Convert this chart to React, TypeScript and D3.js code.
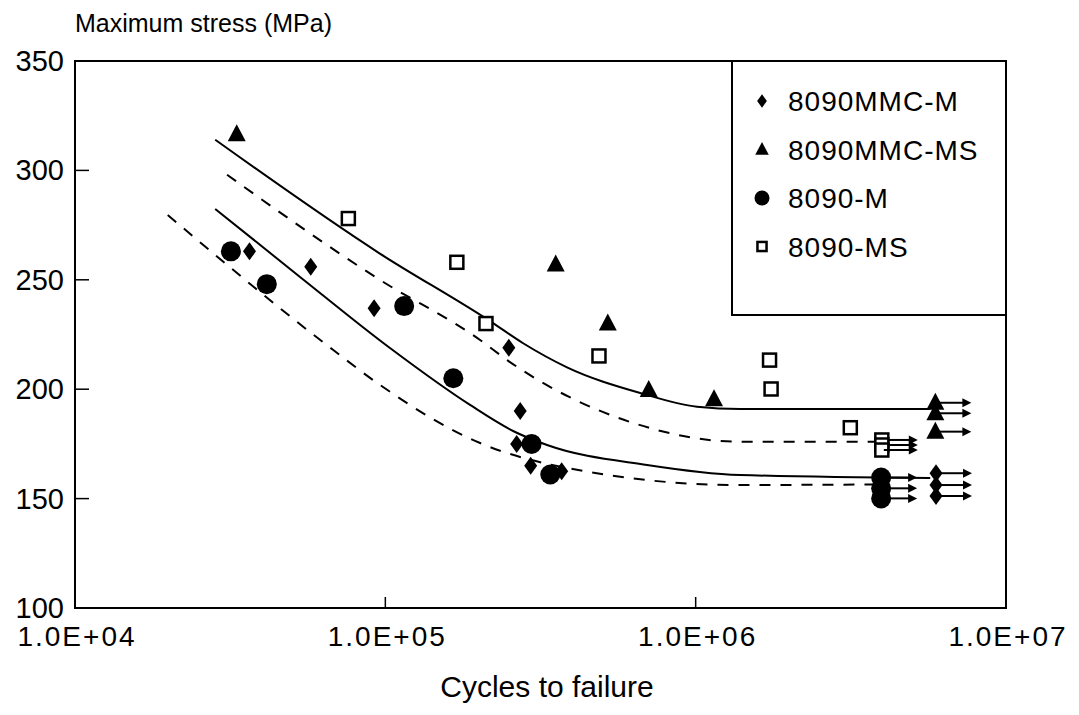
import React from "react";
import * as d3 from "d3";

// cycles to failure, max stress (MPa)
const mmcM: [number, number][] = [
  [36500, 263], [57500, 256], [92000, 237], [250000, 219],
  [272000, 190], [265000, 175], [294000, 165], [370000, 162.5],
];
const mmcMRunout: [number, number][] = [[5.95e6, 161.6], [5.95e6, 156.2], [5.95e6, 151.2]];

const mmcMS: [number, number][] = [
  [33200, 316.5], [354000, 257], [521000, 230], [706000, 199.6], [1.146e6, 195.4],
];
const mmcMSRunout: [number, number][] = [[5.92e6, 193.8], [5.92e6, 189], [5.92e6, 180.6]];

const m8090: [number, number][] = [
  [31800, 263], [41500, 248], [115000, 238], [165600, 205], [296000, 175], [340000, 161],
];
const m8090Runout: [number, number][] = [[3.96e6, 159.6], [3.96e6, 154.7], [3.96e6, 150.1]];

const ms8090: [number, number][] = [
  [76000, 278], [170000, 258], [211000, 230], [488000, 215.2],
  [1.73e6, 213.3], [1.75e6, 200.1], [3.15e6, 182.4],
];
const ms8090Runout: [number, number][] = [[3.98e6, 176.8], [3.98e6, 174.5], [3.98e6, 172.2]];

// fitted curves
const fitMmcMS: [number, number][] = [
  [28300, 314], [96000, 262], [218000, 231], [278000, 221], [385000, 210],
  [662000, 198.3], [1.01e6, 192], [1.39e6, 191], [5.7e6, 191],
];
const fitMs8090: [number, number][] = [
  [30900, 298], [96000, 250], [202000, 222.5], [247000, 213.3], [628000, 184.6],
  [1.39e6, 176], [3.93e6, 176],
];
const fitMmcM: [number, number][] = [
  [28300, 282.4], [53100, 251.3], [103500, 218.8], [187500, 192.8], [258000, 180.9],
  [332000, 174.5], [697000, 165.4], [1.39e6, 160.8], [5.7e6, 159.4],
];
const fitM8090: [number, number][] = [
  [19900, 279.6], [67800, 218], [96000, 202], [202000, 175.4], [385000, 164],
  [1.39e6, 156.2], [3.93e6, 156.5],
];

const yTicks = [100, 150, 200, 250, 300, 350];
const xTicks = [1e4, 1e5, 1e6, 1e7];
const xTickLabels = ["1.0E+04", "1.0E+05", "1.0E+06", "1.0E+07"];
const legendNames = ["8090MMC-M", "8090MMC-MS", "8090-M", "8090-MS"];

const FONT = "'Liberation Sans', Arial, Helvetica, sans-serif";

const Marker = ({ kind, x, y, s = 1 }: { kind: string; x: number; y: number; s?: number }) => {
  if (kind === "diamond")
    return <path d={`M${x},${y - 9 * s}L${x + 6.5 * s},${y}L${x},${y + 9 * s}L${x - 6.5 * s},${y}Z`} fill="#000" />;
  if (kind === "triangle")
    return <path d={`M${x},${y - 10 * s}L${x + 9 * s},${y + 7 * s}L${x - 9 * s},${y + 7 * s}Z`} fill="#000" />;
  if (kind === "circle") return <circle cx={x} cy={y} r={10 * s} fill="#000" />;
  return (
    <rect x={x - 6.5 * s} y={y - 6.5 * s} width={13 * s} height={13 * s}
      fill="#fff" stroke="#000" strokeWidth={2.5} />
  );
};

const Arrow = ({ x, y }: { x: number; y: number }) => (
  <g>
    <line x1={x} y1={y} x2={x + 27} y2={y} stroke="#000" strokeWidth={2} />
    <path d={`M${x + 34},${y}L${x + 25},${y - 4.5}L${x + 25},${y + 4.5}Z`} fill="#000" />
  </g>
);

export default function App() {
  const width = 1079;
  const height = 715;
  const x = d3.scaleLog().domain([1e4, 1e7]).range([75, 1006]);
  const y = d3.scaleLinear().domain([100, 350]).range([608, 61]);

  const line = d3.line<[number, number]>()
    .x((d) => x(d[0]))
    .y((d) => y(d[1]))
    .curve(d3.curveMonotoneX);

  const groups = [
    { kind: "diamond", pts: mmcM, run: mmcMRunout },
    { kind: "triangle", pts: mmcMS, run: mmcMSRunout },
    { kind: "circle", pts: m8090, run: m8090Runout },
    { kind: "square", pts: ms8090, run: ms8090Runout },
  ];

  return (
    <svg width={width} height={height} style={{ position: "absolute", left: 0, top: 0, background: "#fff" }}
      fontFamily={FONT}>
      <rect x={0} y={0} width={width} height={height} fill="#fff" />

      {/* frame */}
      <rect x={75} y={61} width={1006 - 75} height={608 - 61} fill="none" stroke="#000" strokeWidth={2} />

      {yTicks.slice(1, -1).map((t) => (
        <line key={"yt" + t} x1={75} x2={89} y1={y(t)} y2={y(t)} stroke="#000" strokeWidth={1.5} />
      ))}
      {xTicks.slice(1, -1).map((t) => (
        <line key={"xt" + t} x1={x(t)} x2={x(t)} y1={608} y2={597} stroke="#000" strokeWidth={1.5} />
      ))}

      {yTicks.map((t) => (
        <text key={"yl" + t} x={64} y={y(t) + 10} textAnchor="end" fontSize={29}>{t}</text>
      ))}
      {xTicks.map((t, i) => (
        <text key={"xl" + t} x={x(t) + 2} y={646} textAnchor="middle" fontSize={28} letterSpacing={2}>
          {xTickLabels[i]}
        </text>
      ))}

      <text x={75} y={32} fontSize={25}>Maximum stress (MPa)</text>
      <text x={547} y={697} textAnchor="middle" fontSize={30}>Cycles to failure</text>

      {/* fitted curves */}
      <path d={line(fitMmcMS) || ""} fill="none" stroke="#000" strokeWidth={2} />
      <path d={line(fitMmcM) || ""} fill="none" stroke="#000" strokeWidth={2} />
      <path d={line(fitMs8090) || ""} fill="none" stroke="#000" strokeWidth={2} strokeDasharray="11,10" />
      <path d={line(fitM8090) || ""} fill="none" stroke="#000" strokeWidth={2} strokeDasharray="11,10" />

      {groups.map((g) => (
        <g key={g.kind}>
          {g.pts.map((d, i) => (
            <Marker key={i} kind={g.kind} x={x(d[0])} y={y(d[1])} />
          ))}
          {g.run.map((d, i) => (
            <g key={"r" + i}>
              <Marker kind={g.kind} x={x(d[0])} y={y(d[1])} />
              <Arrow x={x(d[0]) + 2} y={y(d[1])} />
            </g>
          ))}
        </g>
      ))}

      {/* legend */}
      <rect x={732} y={61} width={1006 - 732} height={315 - 61} fill="#fff" stroke="#000" strokeWidth={2} />
      {legendNames.map((name, i) => {
        const ly = 101 + i * 48.5;
        const kind = groups[i].kind;
        return (
          <g key={name}>
            <Marker kind={kind} x={762} y={ly} s={kind === "square" ? 0.7 : 0.75} />
            <text x={788} y={ly + 10} fontSize={28} letterSpacing={1}>{name}</text>
          </g>
        );
      })}
    </svg>
  );
}
